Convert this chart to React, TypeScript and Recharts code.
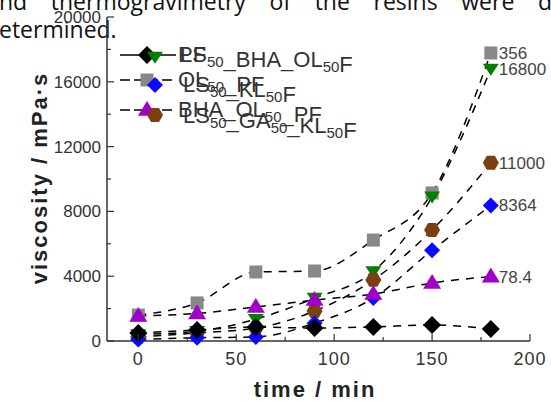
import React from "react";
import { LineChart, Line, XAxis, YAxis, LabelList } from "recharts";

// sampling times (min)
const TIME = [0, 30, 60, 90, 120, 150, 180];

// viscosity values (mPa·s)
const PF = [490, 680, 860, 800, 870, 990, 740];
const OL50_PF = [1600, 2350, 4260, 4320, 6230, 9140, 17780];
const BHA_OL50_PF = [1550, 1700, 2100, 2530, 2900, 3580, 3978];
const LS50_BHA_OL50F = [400, 600, 1350, 2650, 4300, 8900, 16800];
const LS50_KL50F = [100, 200, 250, 1100, 2650, 5600, 8364];
const LS50_GA50_KL50F = [250, 500, 800, 1850, 3770, 6850, 11000];

const X_TICKS = [0, 25, 50, 75, 100, 125, 150, 175, 200];
const X_LABELS = [0, 50, 100, 150, 200];
const Y_TICKS = [0, 2000, 4000, 6000, 8000, 10000, 12000, 14000, 16000, 18000, 20000];
const Y_LABELS = [0, 4000, 8000, 12000, 16000, 20000];

const FONT = "'Liberation Sans', Arial, sans-serif";
const AXIS = "#333";

type Shape = "square" | "diamond" | "triUp" | "triDown" | "hex";

const SERIES: { key: string; values: number[]; color: string; shape: Shape; r: number; end: string }[] = [
  { key: "ol", values: OL50_PF, color: "#888888", shape: "square", r: 6.5, end: "356" },
  { key: "lsbha", values: LS50_BHA_OL50F, color: "#008000", shape: "triDown", r: 8, end: "16800" },
  { key: "lsga", values: LS50_GA50_KL50F, color: "#7b3f12", shape: "hex", r: 8, end: "11000" },
  { key: "lskl", values: LS50_KL50F, color: "#0a0aff", shape: "diamond", r: 8, end: "8364" },
  { key: "bha", values: BHA_OL50_PF, color: "#a000c8", shape: "triUp", r: 9, end: "78.4" },
  { key: "pf", values: PF, color: "#000000", shape: "diamond", r: 9, end: "" },
];

const data = TIME.map((t, i) => {
  const row: Record<string, number> = { time: t };
  SERIES.forEach((s) => (row[s.key] = s.values[i]));
  return row;
});

function marker(shape: Shape, cx: number, cy: number, r: number, color: string, key?: string) {
  if (shape === "square")
    return <rect key={key} x={cx - r} y={cy - r} width={r * 2} height={r * 2} fill={color} />;
  if (shape === "diamond")
    return (
      <polygon key={key} points={`${cx},${cy - r} ${cx + r},${cy} ${cx},${cy + r} ${cx - r},${cy}`} fill={color} />
    );
  if (shape === "triUp")
    return (
      <polygon key={key} points={`${cx},${cy - r} ${cx + r},${cy + r * 0.65} ${cx - r},${cy + r * 0.65}`} fill={color} />
    );
  if (shape === "triDown")
    return (
      <polygon key={key} points={`${cx - r},${cy - r * 0.65} ${cx + r},${cy - r * 0.65} ${cx},${cy + r * 0.85}`} fill={color} />
    );
  const pts = [0, 1, 2, 3, 4, 5]
    .map((k) => {
      const a = (Math.PI / 3) * k;
      return `${cx + r * Math.cos(a)},${cy + r * Math.sin(a)}`;
    })
    .join(" ");
  return <polygon key={key} points={pts} fill={color} />;
}

function XTick(props: any) {
  const { x, y, payload } = props;
  const major = X_LABELS.includes(payload.value);
  return (
    <g>
      <line x1={x} x2={x} y1={y} y2={y - (major ? 7 : 4)} stroke={AXIS} strokeWidth={1.2} />
      {major && (
        <text x={x} y={y + 24} textAnchor="middle" fontSize={18} fill="#333" fontFamily={FONT} letterSpacing={1}>
          {payload.value}
        </text>
      )}
    </g>
  );
}

function TopTick(props: any) {
  const { x, y, payload } = props;
  const major = X_LABELS.includes(payload.value);
  return <line x1={x} x2={x} y1={y} y2={y + (major ? 7 : 4)} stroke={AXIS} strokeWidth={1.2} />;
}

function YTick(props: any) {
  const { x, y, payload } = props;
  const major = Y_LABELS.includes(payload.value);
  return (
    <g>
      <line x1={x} x2={x + (major ? 7 : 4)} y1={y} y2={y} stroke={AXIS} strokeWidth={1.2} />
      {major && (
        <text x={x - 6} y={y} dy="0.35em" textAnchor="end" fontSize={17} fill="#333" fontFamily={FONT}>
          {payload.value}
        </text>
      )}
    </g>
  );
}

function RightTick(props: any) {
  const { x, y, payload } = props;
  const major = Y_LABELS.includes(payload.value);
  return <line x1={x} x2={x - (major ? 7 : 4)} y1={y} y2={y} stroke={AXIS} strokeWidth={1.2} />;
}

function Sub({ children }: { children: string }) {
  return (
    <>
      <tspan dy={5} fontSize={15}>
        {children}
      </tspan>
      <tspan dy={-5}>{""}</tspan>
    </>
  );
}

function LegendRow(props: {
  y: number;
  my: number;
  shape: Shape;
  color: string;
  r: number;
  mx: number;
  dash?: string;
  children: React.ReactNode;
  textX: number;
  line?: boolean;
}) {
  return (
    <g>
      {props.line && (
        <line x1={120} x2={176} y1={props.my} y2={props.my} stroke="#000" strokeWidth={1.5} strokeDasharray={props.dash} />
      )}
      {marker(props.shape, props.mx, props.my, props.r, props.color)}
      <text x={props.textX} y={props.y} fontSize={22} fill="#333" fontFamily={FONT}>
        {props.children}
      </text>
    </g>
  );
}

export default function App() {
  return (
    <div style={{ position: "absolute", left: 0, top: 0, width: 551, height: 401, overflow: "hidden", background: "#fff" }}>
      <div
        style={{
          position: "absolute",
          left: -1,
          top: -14,
          width: 553,
          fontFamily: "'Open Sans', sans-serif",
          fontSize: 23,
          lineHeight: "30px",
          color: "#111",
          textAlign: "justify",
          textAlignLast: "justify",
          whiteSpace: "nowrap",
        }}
      >
        nd thermogravimetry of the resins were d
      </div>
      <div
        style={{
          position: "absolute",
          left: -1,
          top: 14,
          fontFamily: "'Open Sans', sans-serif",
          fontSize: 23,
          lineHeight: "30px",
          color: "#111",
        }}
      >
        etermined.
      </div>
      <div style={{ position: "absolute", left: 0, top: 0 }}>
        <LineChart width={551} height={401} data={data} margin={{ top: 17, right: 21, bottom: 0, left: 0 }}>
          <XAxis
            dataKey="time"
            type="number"
            domain={[-16, 200]}
            ticks={X_TICKS}
            interval={0}
            tickSize={0}
            tickMargin={0}
            tick={<XTick />}
            height={60}
            axisLine={{ stroke: AXIS, strokeWidth: 1.5 }}
            label={{
              content: () => (
                <text
                  x={315}
                  y={397}
                  textAnchor="middle"
                  fontSize={22}
                  fontWeight="bold"
                  fill="#222"
                  fontFamily={FONT}
                  letterSpacing={2}
                >
                  time / min
                </text>
              ),
            }}
          />
          <XAxis
            xAxisId="top"
            orientation="top"
            dataKey="time"
            type="number"
            domain={[-16, 200]}
            ticks={X_TICKS}
            interval={0}
            tickSize={0}
            tickMargin={0}
            tick={<TopTick />}
            height={0}
            axisLine={{ stroke: AXIS, strokeWidth: 1.5 }}
          />
          <YAxis
            type="number"
            domain={[0, 20000]}
            ticks={Y_TICKS}
            interval={0}
            tickSize={0}
            tickMargin={0}
            tick={<YTick />}
            width={107}
            axisLine={{ stroke: AXIS, strokeWidth: 1.5 }}
            label={{
              content: () => (
                <text
                  transform="translate(47,178) rotate(-90)"
                  textAnchor="middle"
                  fontSize={22}
                  fontWeight="bold"
                  fill="#222"
                  fontFamily={FONT}
                  letterSpacing={2}
                >
                  viscosity / mPa·s
                </text>
              ),
            }}
          />
          <YAxis
            yAxisId="right"
            orientation="right"
            type="number"
            domain={[0, 20000]}
            ticks={Y_TICKS}
            interval={0}
            tickSize={0}
            tickMargin={0}
            tick={<RightTick />}
            width={0}
            axisLine={{ stroke: AXIS, strokeWidth: 1.5 }}
          />
          {SERIES.map((s) => (
            <Line
              key={s.key}
              type="monotone"
              dataKey={s.key}
              stroke="#000"
              strokeWidth={1.5}
              strokeDasharray="8 7"
              isAnimationActive={false}
              dot={(p: any) => marker(s.shape, p.cx, p.cy, s.r, s.color, `${s.key}-${p.index}`)}
              activeDot={false}
            >
              {s.end && (
                <LabelList
                  dataKey={s.key}
                  content={(p: any) =>
                    p.index === TIME.length - 1 ? (
                      <text x={p.x + 8} y={p.y} dy="0.35em" fontSize={17} fill="#444" fontFamily={FONT}>
                        {s.end}
                      </text>
                    ) : null
                  }
                />
              )}
            </Line>
          ))}
        </LineChart>
      </div>
      <svg width={551} height={401} style={{ position: "absolute", left: 0, top: 0, pointerEvents: "none" }}>
        <LegendRow y={62} my={55} shape="diamond" color="#000" r={9} mx={147} textX={178} line>
          PF
        </LegendRow>
        <LegendRow y={62} my={57} shape="triDown" color="#008000" r={8} mx={155} textX={180}>
          LS<Sub>50</Sub>_BHA_OL<Sub>50</Sub>F
        </LegendRow>
        <LegendRow y={87} my={80} shape="square" color="#888888" r={6.5} mx={147} textX={178} line dash="10 4">
          OL<Sub>50</Sub>_PF
        </LegendRow>
        <LegendRow y={92} my={85} shape="diamond" color="#0a0aff" r={8} mx={155} textX={183}>
          LS<Sub>50</Sub>_KL<Sub>50</Sub>F
        </LegendRow>
        <LegendRow y={117} my={110} shape="triUp" color="#a000c8" r={9} mx={147} textX={178} line dash="10 4">
          BHA_OL<Sub>50</Sub>_PF
        </LegendRow>
        <LegendRow y={123} my={115} shape="hex" color="#7b3f12" r={8} mx={155} textX={183}>
          LS<Sub>50</Sub>_GA<Sub>50</Sub>_KL<Sub>50</Sub>F
        </LegendRow>
      </svg>
    </div>
  );
}
